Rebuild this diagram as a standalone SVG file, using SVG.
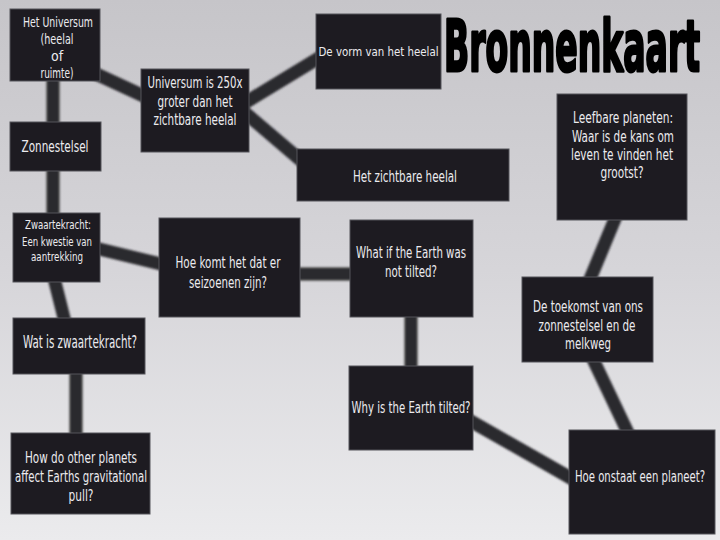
<svg xmlns="http://www.w3.org/2000/svg" width="720" height="540" viewBox="0 0 720 540">
<defs>
<linearGradient id="bg" x1="0" y1="0" x2="0" y2="1">
<stop offset="0" stop-color="#c6c5c9"/>
<stop offset="0.5" stop-color="#d6d5d9"/>
<stop offset="1" stop-color="#ebebed"/>
</linearGradient>
<filter id="soft" x="-10%" y="-10%" width="120%" height="120%"><feGaussianBlur stdDeviation="1.2"/></filter>
<style>
.box{fill:#1d1b21;stroke:#55545a;stroke-width:1}
.t{font-family:"DejaVu Sans Condensed","Liberation Sans",sans-serif;fill:#ecebef;text-anchor:middle}
.c line{stroke:#2a292e;stroke-width:13;stroke-linecap:butt}
.title{font-family:"DejaVu Sans Condensed","Liberation Sans",sans-serif;font-weight:900;font-size:71px;fill:#000;stroke:#000;stroke-width:3;stroke-linejoin:round}
</style>
</defs>
<rect width="720" height="540" fill="url(#bg)"/>
<g id="connectors" class="c" filter="url(#soft)">
<line x1="53" y1="75" x2="53" y2="128"/>
<line x1="53" y1="165" x2="53" y2="219"/>
<line x1="52" y1="270" x2="67" y2="330"/>
<line x1="76" y1="368" x2="76" y2="440"/>
<line x1="95" y1="248" x2="165" y2="265"/>
<line x1="295" y1="274" x2="356" y2="274"/>
<line x1="411" y1="311" x2="411" y2="372"/>
<line x1="467" y1="419" x2="576" y2="481"/>
<line x1="591" y1="355" x2="630" y2="437"/>
<line x1="617" y1="214" x2="588" y2="284"/>
<line x1="94" y1="73" x2="148" y2="98"/>
<line x1="243" y1="104" x2="322" y2="56"/>
<line x1="243" y1="111" x2="304" y2="163"/>
</g>
<g id="n-universum"><rect class="box" x="10" y="9" width="90" height="72"/>
<text class="t" font-size="14"><tspan x="58" y="27" textLength="70" lengthAdjust="spacingAndGlyphs">Het Universum</tspan><tspan x="57" y="44" textLength="33" lengthAdjust="spacingAndGlyphs">(heelal</tspan><tspan x="57" y="61">of</tspan><tspan x="57" y="78" textLength="33" lengthAdjust="spacingAndGlyphs">ruimte)</tspan></text></g>
<g id="n-250x"><rect class="box" x="141" y="69" width="108" height="83"/>
<text class="t" font-size="16"><tspan x="195" y="88" textLength="95" lengthAdjust="spacingAndGlyphs">Universum is 250x</tspan><tspan x="195" y="107" textLength="75" lengthAdjust="spacingAndGlyphs">groter dan het</tspan><tspan x="195" y="125" textLength="83" lengthAdjust="spacingAndGlyphs">zichtbare heelal</tspan></text></g>
<g id="n-vorm"><rect class="box" x="316" y="14" width="125" height="75"/>
<text class="t" font-size="13" x="378.5" y="56" textLength="120" lengthAdjust="spacingAndGlyphs">De vorm van het heelal</text></g>
<g id="n-zichtbaar"><rect class="box" x="297" y="149" width="212" height="52"/>
<text class="t" font-size="15.5" x="405" y="182" textLength="104" lengthAdjust="spacingAndGlyphs">Het zichtbare heelal</text></g>
<g id="n-leefbaar"><rect class="box" x="557" y="94" width="130" height="126"/>
<text class="t" font-size="15.5"><tspan x="623" y="123" textLength="100" lengthAdjust="spacingAndGlyphs">Leefbare planeten:</tspan><tspan x="623" y="142" textLength="102" lengthAdjust="spacingAndGlyphs">Waar is de kans om</tspan><tspan x="622" y="160" textLength="102" lengthAdjust="spacingAndGlyphs">leven te vinden het</tspan><tspan x="622" y="178" textLength="43" lengthAdjust="spacingAndGlyphs">grootst?</tspan></text></g>
<g id="n-zonnestelsel"><rect class="box" x="10" y="122" width="91" height="49"/>
<text class="t" font-size="15.5" x="55" y="152" textLength="67" lengthAdjust="spacingAndGlyphs">Zonnestelsel</text></g>
<g id="n-zwaartekracht"><rect class="box" x="13" y="213" width="87" height="69"/>
<text class="t" font-size="11.5"><tspan x="58" y="229" textLength="66" lengthAdjust="spacingAndGlyphs">Zwaartekracht:</tspan><tspan x="57" y="246" textLength="70" lengthAdjust="spacingAndGlyphs">Een kwestie van</tspan><tspan x="57" y="261" textLength="52" lengthAdjust="spacingAndGlyphs">aantrekking</tspan></text></g>
<g id="n-seizoenen"><rect class="box" x="159" y="218" width="141" height="99"/>
<text class="t" font-size="16.5"><tspan x="228" y="268" textLength="105" lengthAdjust="spacingAndGlyphs">Hoe komt het dat er</tspan><tspan x="228" y="288" textLength="78" lengthAdjust="spacingAndGlyphs">seizoenen zijn?</tspan></text></g>
<g id="n-watis"><rect class="box" x="13" y="318" width="132" height="56"/>
<text class="t" font-size="17" x="80" y="348" textLength="114" lengthAdjust="spacingAndGlyphs">Wat is zwaartekracht?</text></g>
<g id="n-howdo"><rect class="box" x="11" y="433" width="139" height="81"/>
<text class="t" font-size="16.5"><tspan x="81" y="463" textLength="112" lengthAdjust="spacingAndGlyphs">How do other planets</tspan><tspan x="81" y="482" textLength="132" lengthAdjust="spacingAndGlyphs">affect Earths gravitational</tspan><tspan x="81" y="501" textLength="25" lengthAdjust="spacingAndGlyphs">pull?</tspan></text></g>
<g id="n-whatif"><rect class="box" x="350" y="220" width="123" height="97"/>
<text class="t" font-size="16"><tspan x="411" y="258" textLength="110" lengthAdjust="spacingAndGlyphs">What if the Earth was</tspan><tspan x="411" y="277" textLength="52" lengthAdjust="spacingAndGlyphs">not tilted?</tspan></text></g>
<g id="n-why"><rect class="box" x="349" y="366" width="124" height="84"/>
<text class="t" font-size="16" x="411" y="413" textLength="119" lengthAdjust="spacingAndGlyphs">Why is the Earth tilted?</text></g>
<g id="n-toekomst"><rect class="box" x="522" y="277" width="131" height="85"/>
<text class="t" font-size="15.5"><tspan x="588" y="312" textLength="110" lengthAdjust="spacingAndGlyphs">De toekomst van ons</tspan><tspan x="587" y="331" textLength="97" lengthAdjust="spacingAndGlyphs">zonnestelsel en de</tspan><tspan x="588" y="349" textLength="46" lengthAdjust="spacingAndGlyphs">melkweg</tspan></text></g>
<g id="n-onstaat"><rect class="box" x="569" y="430" width="146" height="104"/>
<text class="t" font-size="16" x="640" y="482" textLength="130" lengthAdjust="spacingAndGlyphs">Hoe onstaat een planeet?</text></g>
<text class="title" x="444" y="71" textLength="256" lengthAdjust="spacingAndGlyphs">Bronnenkaart</text>
</svg>
